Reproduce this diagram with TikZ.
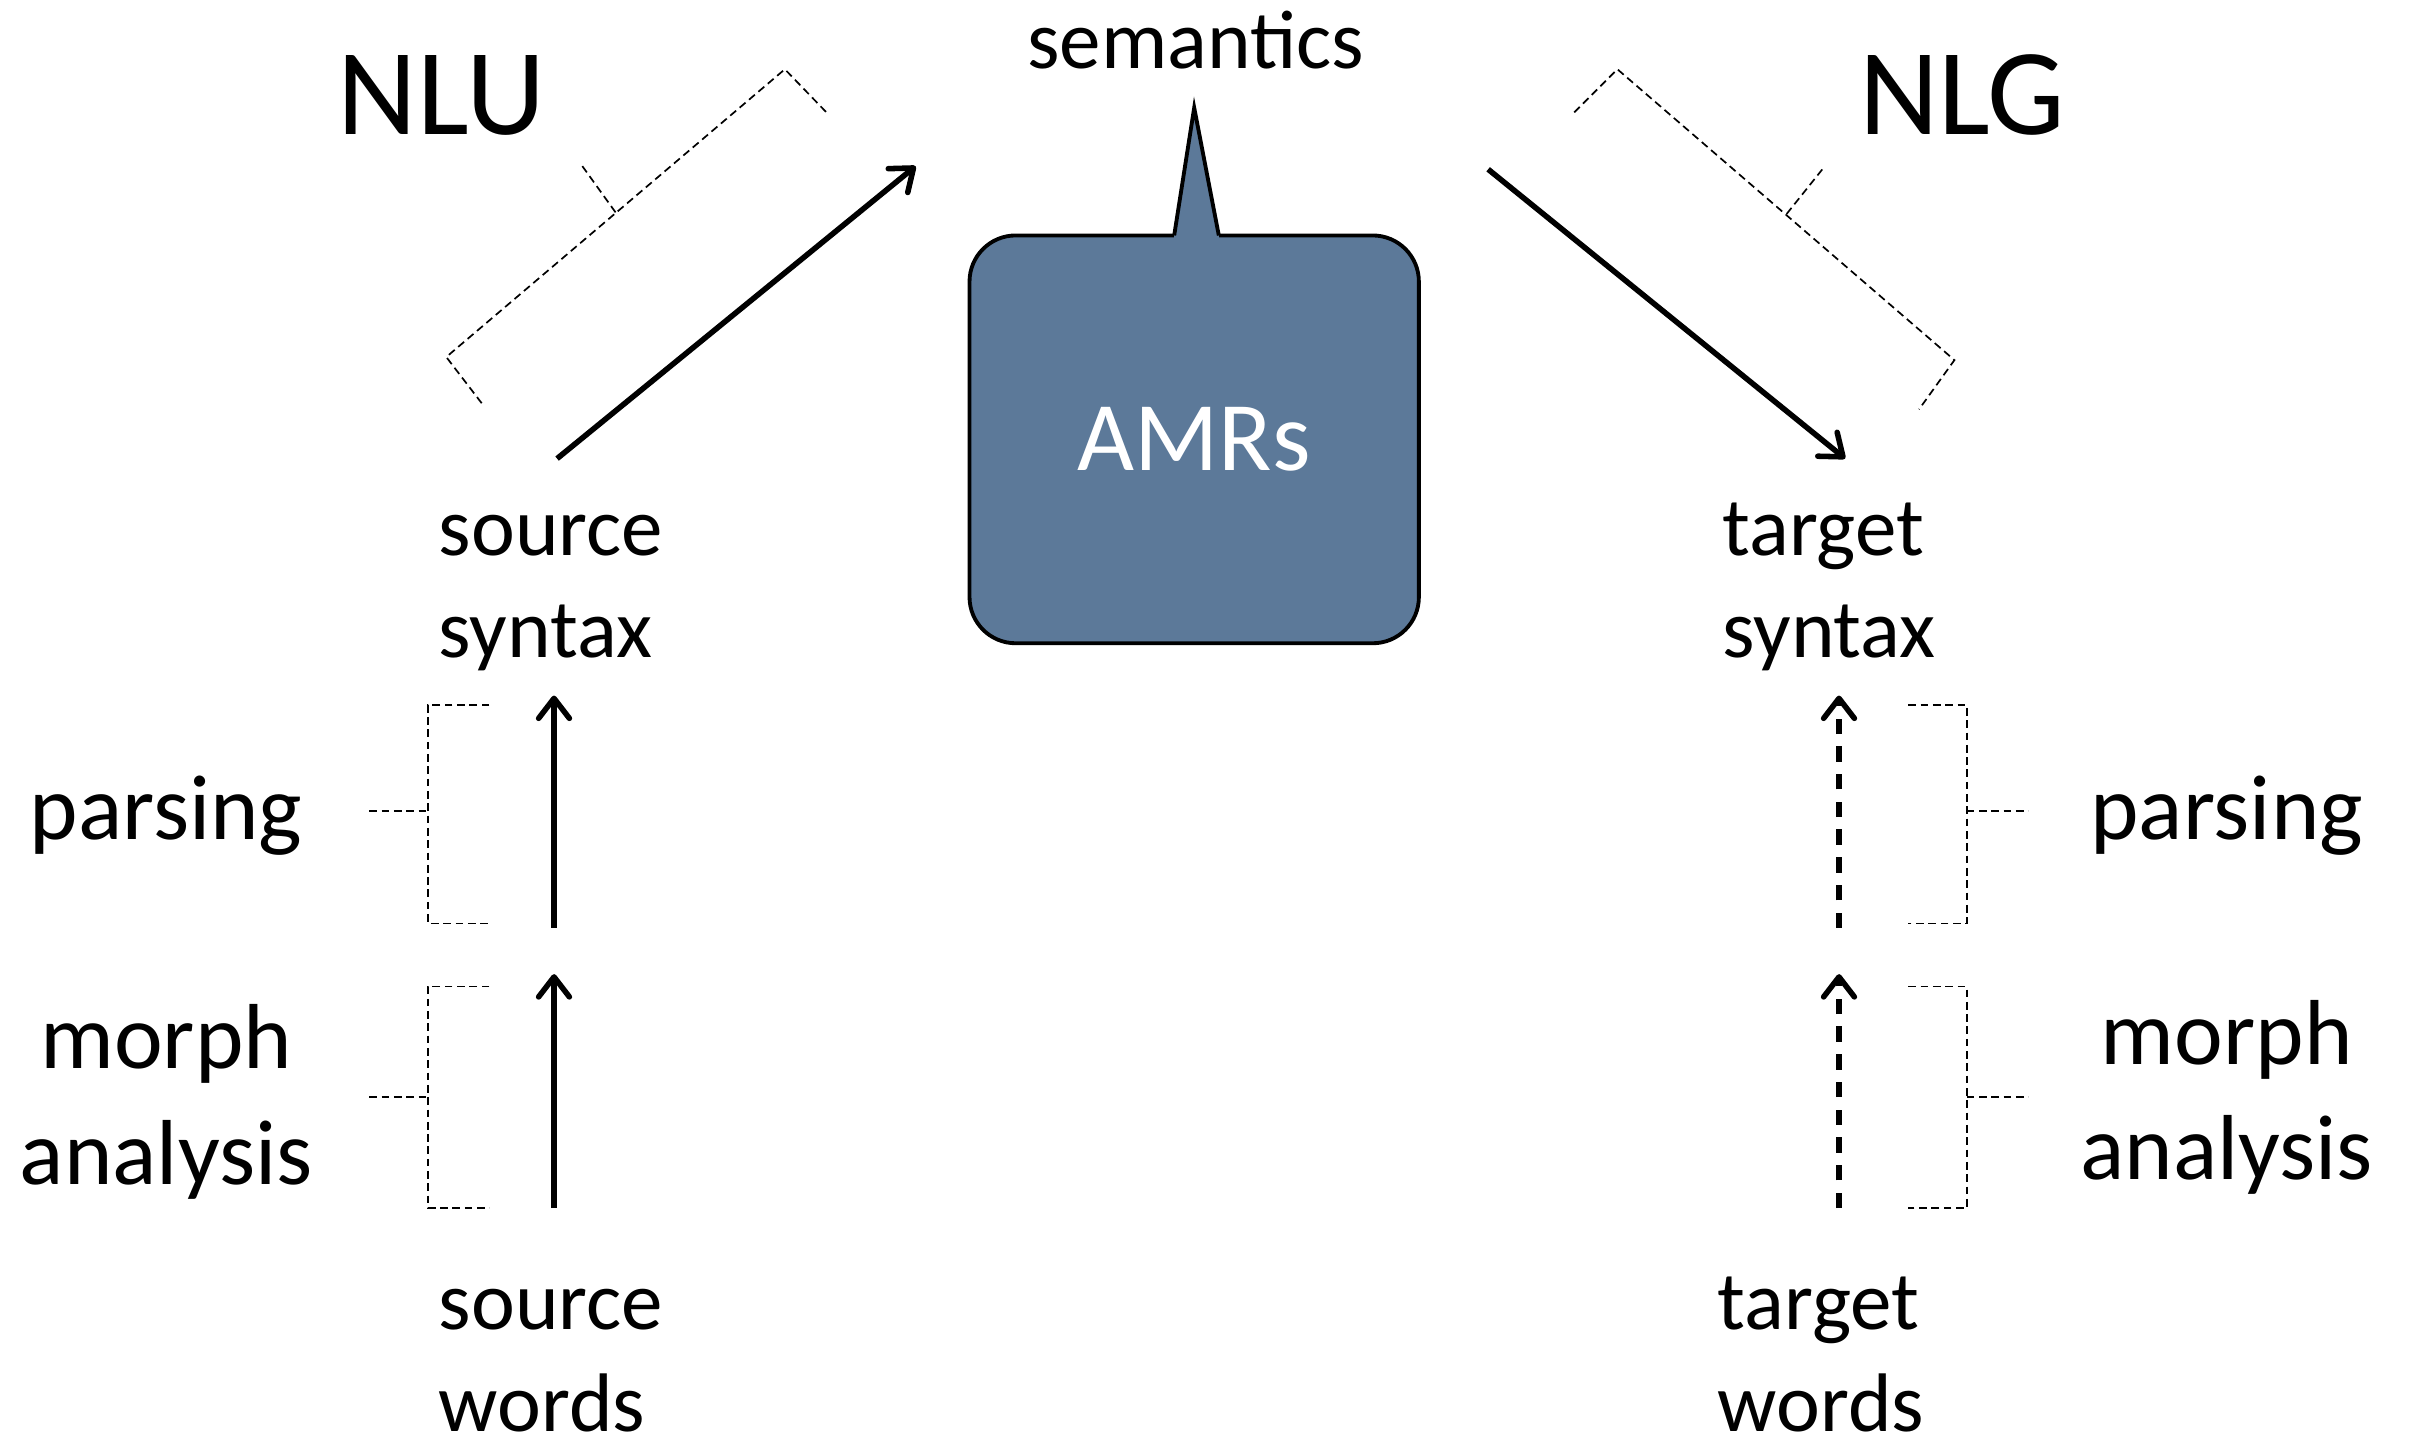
\documentclass[tikz,border=0pt]{standalone}
\usepackage{fontspec}
\setmainfont{Carlito}
\usetikzlibrary{arrows.meta}
\definecolor{amrblue}{RGB}{92,121,153}
\begin{document}
\begin{tikzpicture}
[x=1pt,y=-1pt,
 lbl/.style={inner sep=0pt,font=\fontsize{54}{66}\selectfont,align=left},
 side/.style={inner sep=0pt,font=\fontsize{60}{75}\selectfont,align=center},
 big/.style={inner sep=0pt,font=\fontsize{80}{90}\selectfont},
 amrbox/.style={draw,line width=2.5pt,fill=amrblue,rounded corners=30pt,
   minimum width=292pt,minimum height=265pt,text=white,
   font=\fontsize{64}{72}\selectfont},
 flow/.style={line width=3.6pt,-{Straight Barb[length=13pt,width=20pt,round]}},
 guess/.style={flow,dash pattern=on 10pt off 8pt},
 brace/.style={line width=1.1pt,dash pattern=on 5pt off 3pt}]
\useasboundingbox (0,0) rectangle (1568,941);
\node [big] (nlu) at (287,62) {NLU};
\node [big] (nlg) at (1275,62) {NLG};
\node [lbl] (sem) at (777,26) {semantics};
\node [amrbox] (amr) at (776,285.5) {AMRs};
% tail of the bubble
\coordinate (tip) at (776,70);
\fill [amrblue] (763,158) -- (763,153) -- (tip) -- (792,153) -- (792,158) -- cycle;
\draw [line width=2.5pt,line join=miter] (763,153) -- (tip) -- (792,153);
% base = baseline of the second line
\node [lbl,anchor=base west] (ssyn) at (285,427) {source\\syntax};
\node [lbl,anchor=base west] (tsyn) at (1119,427) {target\\syntax};
\node [lbl,anchor=base west] (swords) at (285,930) {source\\words};
\node [lbl,anchor=base west] (twords) at (1116,930) {target\\words};
\node [side] (lparse) at (108,530) {parsing};
\node [side] (lmorph) at (108,716) {morph\\analysis};
\node [side] (rparse) at (1447,530) {parsing};
\node [side] (rmorph) at (1447,713) {morph\\analysis};
% NLU and NLG arrows
\coordinate (nluA) at (362,298);
\coordinate (nluB) at (595,108);
\coordinate (nlgA) at (967,110);
\coordinate (nlgB) at (1199,298);
\draw [flow] (nluA) -- (nluB);
\draw [flow] (nlgA) -- (nlgB);
\draw [brace] (313,262) -- (290,232) -- (510,45) -- (537,73);
\draw [brace] (400,138) -- (377,106);
\draw [brace] (1023,73) -- (1051,45) -- (1270,234) -- (1247,266);
\draw [brace] (1161,139) -- (1185,109);
% steps up from the words
\foreach \lo/\hi in {785/633,603/452} {
  \draw [flow] (360,\lo) -- (360,\hi);
  \draw [guess] (1195,\lo) -- (1195,\hi);
}
\foreach \t/\m/\b in {458/527/600,641/713/785} {
  \draw [brace] (318,\t) -- (278,\t) -- (278,\b) -- (318,\b);
  \draw [brace] (240,\m) -- (278,\m);
  \draw [brace] (1240,\t) -- (1278,\t) -- (1278,\b) -- (1240,\b);
  \draw [brace] (1278,\m) -- (1318,\m);
}
\end{tikzpicture}
\end{document}
